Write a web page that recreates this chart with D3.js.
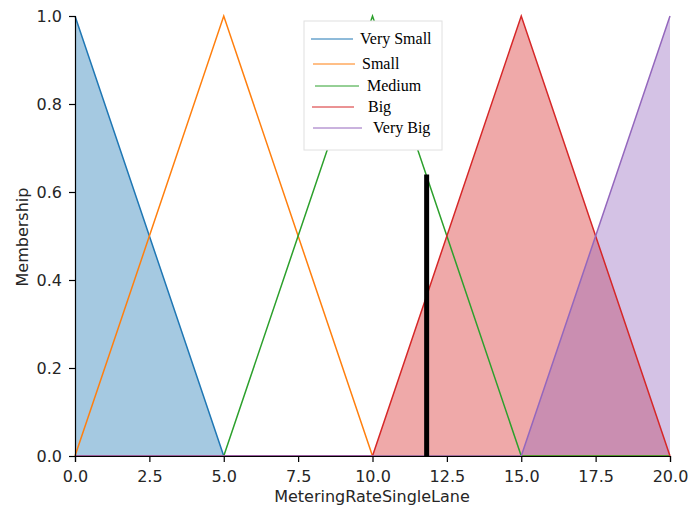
<!DOCTYPE html>
<html>
<head>
<meta charset="utf-8">
<script src="https://cdn.jsdelivr.net/npm/d3@7"></script>
<style>
  body { margin: 0; background: #fff; }
  .tick text { font-family: "DejaVu Sans", sans-serif; font-size: 16px; fill: #262626; }
</style>
</head>
<body>
<svg id="chart" width="689" height="510"></svg>
<script>
// universe breakpoints and membership at each breakpoint
const universe = [0, 5, 10, 15, 20];
const verySmall = [1, 0, 0, 0, 0];
const small = [0, 1, 0, 0, 0];
const medium = [0, 0, 1, 0, 0];
const big = [0, 0, 0, 1, 0];
const veryBig = [0, 0, 0, 0, 1];

const termNames = ["Very Small", "Small", "Medium", "Big", "Very Big"];
const termColors = ["#1f77b4", "#ff7f0e", "#2ca02c", "#d62728", "#9467bd"];
const filledTerms = ["Very Small", "Big", "Very Big"];

const xTicks = [0, 2.5, 5, 7.5, 10, 12.5, 15, 17.5, 20];
const yTicks = [0, 0.2, 0.4, 0.6, 0.8, 1.0];

// the crisp output marker
const outputValue = 11.82;
const outputMembership = 0.64;

const svg = d3.select("#chart");
const margin = { left: 75, right: 19, top: 16, bottom: 54 };
const width = 689 - margin.left - margin.right;
const height = 510 - margin.top - margin.bottom;

const g = svg.append("g").attr("transform", `translate(${margin.left},${margin.top})`);

const x = d3.scaleLinear().domain([0, 20]).range([0, width]);
const y = d3.scaleLinear().domain([0, 1]).range([height, 0]);

const series = [verySmall, small, medium, big, veryBig].map((vals, i) => ({
  name: termNames[i],
  color: termColors[i],
  points: universe.map((u, j) => ({ u: u, m: vals[j] }))
}));

const area = d3.area().x(d => x(d.u)).y0(y(0)).y1(d => y(d.m));
const line = d3.line().x(d => x(d.u)).y(d => y(d.m));

// fills first
g.selectAll(".fill")
  .data(series.filter(s => filledTerms.includes(s.name)))
  .enter().append("path")
  .attr("class", "fill")
  .attr("d", d => area(d.points))
  .attr("fill", d => d.color)
  .attr("fill-opacity", 0.4);

// lines
g.selectAll(".mf")
  .data(series)
  .enter().append("path")
  .attr("class", "mf")
  .attr("d", d => line(d.points))
  .attr("fill", "none")
  .attr("stroke", d => d.color)
  .attr("stroke-width", 1.5);

// axes (left and bottom spines only)
const xAxis = d3.axisBottom(x).tickValues(xTicks).tickFormat(d3.format(".1f")).tickSize(6).tickPadding(9);
const yAxis = d3.axisLeft(y).tickValues(yTicks).tickFormat(d3.format(".1f")).tickSize(6).tickPadding(7);

g.append("g")
  .attr("transform", `translate(0,${height})`)
  .call(xAxis)
  .call(a => a.selectAll("path, line").attr("stroke", "#000").attr("stroke-width", 1.2));

g.append("g")
  .call(yAxis)
  .call(a => a.selectAll("path, line").attr("stroke", "#000").attr("stroke-width", 1.2));

// output marker
g.append("line")
  .attr("x1", x(outputValue)).attr("x2", x(outputValue))
  .attr("y1", y(0)).attr("y2", y(outputMembership))
  .attr("stroke", "#000")
  .attr("stroke-width", 5);

// axis labels
svg.append("text")
  .attr("x", 372)
  .attr("y", 502)
  .attr("text-anchor", "middle")
  .style("font-family", "DejaVu Sans, sans-serif")
  .style("font-size", "16px")
  .attr("fill", "#262626")
  .text("MeteringRateSingleLane");

svg.append("text")
  .attr("transform", `translate(28,${237}) rotate(-90)`)
  .attr("text-anchor", "middle")
  .style("font-family", "DejaVu Sans, sans-serif")
  .style("font-size", "16px")
  .attr("fill", "#262626")
  .text("Membership");

// legend
const legend = svg.append("g").attr("transform", "translate(304,21)");
legend.append("rect")
  .attr("width", 138).attr("height", 129)
  .attr("fill", "#fff")
  .attr("stroke", "#e0e0e0");

const legendRows = [
  { y: 18, x1: 7, x2: 49, tx: 56 },
  { y: 43, x1: 9, x2: 51, tx: 58 },
  { y: 65, x1: 11, x2: 55, tx: 63 },
  { y: 86, x1: 8, x2: 50, tx: 64 },
  { y: 107, x1: 9, x2: 58, tx: 69 }
];

const items = legend.selectAll(".item")
  .data(series)
  .enter().append("g")
  .attr("class", "item");

items.append("line")
  .attr("x1", (d, i) => legendRows[i].x1)
  .attr("x2", (d, i) => legendRows[i].x2)
  .attr("y1", (d, i) => legendRows[i].y)
  .attr("y2", (d, i) => legendRows[i].y)
  .attr("stroke", d => d.color)
  .attr("stroke-width", 1);

items.append("text")
  .attr("x", (d, i) => legendRows[i].tx)
  .attr("y", (d, i) => legendRows[i].y + 5)
  .style("font-family", "Liberation Serif, serif")
  .style("font-size", "16px")
  .attr("fill", "#000")
  .text(d => d.name);
</script>
</body>
</html>
